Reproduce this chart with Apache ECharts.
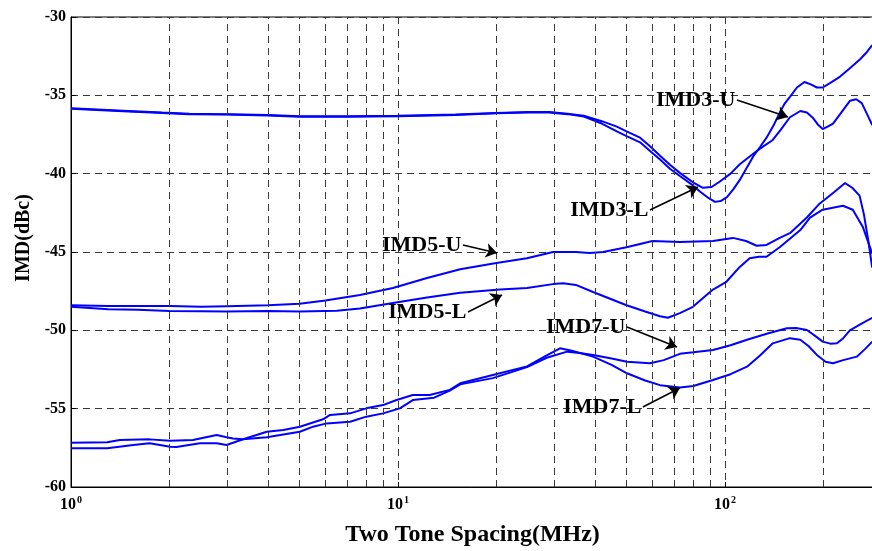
<!DOCTYPE html>
<html><head><meta charset="utf-8">
<script src="https://cdn.jsdelivr.net/npm/echarts@6/dist/echarts.min.js"></script>
<style>html,body{margin:0;padding:0;background:#fff}#c{width:872px;height:551px}</style>
</head><body><div id="c"></div>
<script>
// ---- data (frequency in MHz, IMD in dBc) ----
const imd3U = [[1,-35.83],[1.2,-35.9],[1.5,-36.0],[1.9,-36.1],[2.3,-36.18],[3,-36.2],[4,-36.25],[5,-36.33],[7,-36.33],[10,-36.3],[15,-36.22],[20,-36.12],[25,-36.07],[29,-36.07],[33,-36.17],[37,-36.3],[42,-36.65],[46.7,-37.0],[50,-37.3],[55,-37.7],[59,-38.25],[63.3,-38.85],[68,-39.45],[72.8,-39.95],[79.8,-40.55],[85.6,-40.9],[91,-40.85],[96.5,-40.5],[104,-40.0],[111,-39.4],[119,-38.9],[128,-38.4],[140,-37.85],[148,-37.2],[158,-36.4],[170,-36.0],[178,-36.1],[186,-36.45],[193,-36.9],[199,-37.15],[206,-37.0],[214,-36.8],[225,-36.2],[241,-35.35],[252,-35.25],[262,-35.5],[272,-36.2],[282,-36.9]];
const imd3L = [[1,-35.86],[1.2,-35.93],[1.5,-36.03],[1.9,-36.13],[2.3,-36.2],[3,-36.22],[4,-36.28],[5,-36.36],[7,-36.36],[10,-36.33],[15,-36.25],[20,-36.15],[25,-36.1],[29,-36.1],[33,-36.2],[37,-36.35],[42,-36.8],[46.7,-37.3],[50,-37.6],[55,-38.0],[59,-38.55],[63.3,-39.1],[68,-39.7],[72.8,-40.15],[79.8,-40.75],[84,-41.15],[89,-41.55],[93.2,-41.8],[97,-41.75],[101.4,-41.5],[106,-41.0],[111,-40.4],[116,-39.7],[122,-38.9],[128,-38.3],[134,-37.7],[141,-36.9],[147,-36.1],[152,-35.55],[158,-35.1],[166,-34.5],[175,-34.15],[183,-34.3],[191,-34.5],[199,-34.5],[210,-34.2],[225,-33.8],[240,-33.3],[259,-32.7],[270,-32.3],[282,-31.8]];
const imd5U = [[1,-48.4],[1.3,-48.45],[1.6,-48.45],[2,-48.45],[2.5,-48.5],[3,-48.46],[4,-48.4],[5,-48.3],[6,-48.1],[7.65,-47.74],[9.65,-47.3],[12.27,-46.66],[15.5,-46.1],[20,-45.7],[24.8,-45.4],[29.8,-45.0],[35,-45.0],[38.6,-45.06],[42.4,-45.0],[50,-44.7],[60,-44.3],[72.8,-44.36],[91.9,-44.3],[105.8,-44.1],[116,-44.3],[125,-44.6],[134,-44.55],[147,-44.1],[158,-43.8],[178,-42.8],[195,-41.9],[215,-41.2],[233,-40.6],[245,-40.9],[258,-41.4],[266,-42.6],[274,-44.2],[282,-46.0]];
const imd5L = [[1,-48.5],[1.3,-48.65],[1.6,-48.68],[2,-48.76],[2.5,-48.78],[3,-48.8],[4,-48.76],[5,-48.8],[6.5,-48.75],[7.65,-48.6],[9.65,-48.25],[12.27,-47.9],[15.5,-47.6],[20.5,-47.4],[24.8,-47.3],[29.8,-47.05],[32,-47.0],[35,-47.1],[39.5,-47.55],[50,-48.4],[57,-48.8],[63.3,-49.1],[66.9,-49.2],[72.8,-48.9],[79.8,-48.5],[85,-48.0],[91.9,-47.4],[101,-46.9],[111,-45.95],[119,-45.4],[127,-45.3],[134,-45.3],[147,-44.7],[170,-43.6],[182,-42.8],[199,-42.3],[229.5,-42.05],[246,-42.3],[264,-43.4],[282,-45.1]];
const imd7U = [[1,-57.17],[1.29,-57.15],[1.41,-57.0],[1.74,-56.96],[2.01,-57.05],[2.36,-57.0],[2.79,-56.68],[2.99,-56.83],[3.13,-56.9],[3.36,-56.95],[3.97,-56.83],[5.01,-56.47],[5.5,-56.15],[6.05,-55.94],[7.14,-55.83],[8.0,-55.51],[9.0,-55.3],[10.13,-54.98],[11.1,-54.45],[12.9,-54.3],[14.4,-53.85],[15.5,-53.45],[19.5,-53.05],[24.8,-52.35],[28.5,-51.75],[32.9,-51.36],[36,-51.45],[39.5,-51.57],[45,-51.8],[50.15,-52.0],[59,-52.1],[65,-51.9],[72.8,-51.5],[80,-51.4],[91.9,-51.25],[104,-50.95],[116.8,-50.6],[135,-50.2],[154.7,-49.87],[165,-49.85],[178,-49.98],[190,-50.4],[199,-50.72],[210,-50.85],[220,-50.83],[230,-50.5],[241,-50.0],[260,-49.6],[282,-49.2]];
const imd7L = [[1,-57.53],[1.29,-57.53],[1.55,-57.32],[1.74,-57.21],[2.01,-57.43],[2.1,-57.45],[2.48,-57.21],[2.79,-57.21],[2.99,-57.32],[3.36,-56.95],[3.97,-56.47],[4.46,-56.36],[5.01,-56.15],[5.9,-55.68],[6.2,-55.4],[7.14,-55.3],[8.0,-54.98],[9.0,-54.77],[9.9,-54.45],[11.1,-54.13],[12.5,-54.13],[14.4,-53.8],[15.5,-53.38],[19.5,-52.85],[24.8,-52.3],[28.5,-51.6],[31.3,-51.15],[34,-51.3],[39.5,-51.68],[45,-52.2],[50.15,-52.74],[57,-53.2],[63.3,-53.5],[72.8,-53.65],[80,-53.55],[91.9,-53.17],[104,-52.8],[116.8,-52.32],[128,-51.6],[140,-50.83],[158,-50.5],[170,-50.6],[180,-51.0],[191,-51.57],[203,-52.0],[214,-52.1],[230,-51.9],[253,-51.68],[268,-51.2],[282,-50.72]];

const minorGridX = [2,3,4,5,6,7,8,9,20,30,40,50,60,70,80,90,200];
const annoNames = ['IMD3-U','IMD3-L','IMD5-U','IMD5-L','IMD7-U','IMD7-L'];
const annoFrom = [[108.8,-35.30],[58.96,-42.32],[15.8,-44.55],[16.37,-48.83],[50.15,-49.79],[56.1,-54.89]];
const annoTo = [[155.8,-36.38],[82.7,-40.85],[20.08,-45.06],[20.8,-47.74],[71.3,-51.06],[72.8,-53.68]];

const FONT = 'Liberation Serif';
const BLUE = '#0000ff';
const gridDash = {color:'#3a3a3a', width:1, type:[7,5]};

function curve(name, data){
  return {name, type:'line', data, showSymbol:false, symbol:'none', smooth:false,
    lineStyle:{color:BLUE, width:2}, itemStyle:{color:BLUE}, z:3, silent:true, animation:false};
}

const chart = echarts.init(document.getElementById('c'), null, {renderer:'canvas'});
chart.setOption({
  animation:false,
  backgroundColor:'#fff',
  grid:{left:71, right:-2, top:17, bottom:64, outerBoundsMode:'none', containLabel:false,
    show:true, borderColor:'#000', borderWidth:1, backgroundColor:'transparent'},
  xAxis:{
    type:'log', logBase:10, min:1, max:285.6,
    axisLine:{show:true, onZero:false, lineStyle:{color:'#000', width:1}},
    axisTick:{show:true, inside:true, length:5, lineStyle:{color:'#000'}},
    splitLine:{show:true, lineStyle:gridDash},
    axisLabel:{
      margin:8, color:'#000',
      formatter:function(v){
        const e = Math.log10(v);
        if (Math.abs(e - Math.round(e)) > 1e-6) return '';
        return '{b|10}{s|' + Math.round(e) + '}';
      },
      rich:{
        b:{fontFamily:FONT, fontWeight:'bold', fontSize:16, color:'#000'},
        s:{fontFamily:FONT, fontWeight:'bold', fontSize:10, color:'#000', verticalAlign:'top', padding:[0,0,10,1]}
      }
    },
    name:'Two Tone Spacing(MHz)', nameLocation:'middle', nameGap:36,
    nameTextStyle:{fontFamily:FONT, fontWeight:'bold', fontSize:24, color:'#000'}
  },
  yAxis:{
    type:'value', min:-60, max:-30, interval:5,
    axisLine:{show:true, onZero:false, lineStyle:{color:'#000', width:1}},
    axisTick:{show:true, inside:true, length:5, lineStyle:{color:'#000'}},
    splitLine:{show:true, lineStyle:gridDash},
    axisLabel:{margin:5, fontFamily:FONT, fontWeight:'bold', fontSize:16, color:'#000'},
    name:'IMD(dBc)', nameLocation:'middle', nameGap:36, nameRotate:90,
    nameTextStyle:{fontFamily:FONT, fontWeight:'bold', fontSize:20, color:'#000', padding:[0,0,0,28]}
  },
  series:[
    {type:'line', data:[], silent:true, z:1,
      markLine:{silent:true, symbol:['none','none'], label:{show:false}, animation:false,
        lineStyle:gridDash, data:minorGridX.map(v=>({xAxis:v}))}},
    curve('IMD3-U', imd3U), curve('IMD3-L', imd3L),
    curve('IMD5-U', imd5U), curve('IMD5-L', imd5L),
    curve('IMD7-U', imd7U), curve('IMD7-L', imd7L),
    {type:'line', data:[], silent:true, z:5,
      markLine:{silent:true, symbol:['none','arrow'], symbolSize:11, label:{show:false}, animation:false,
        lineStyle:{color:'#000', width:1.6, type:'solid'},
        data:annoFrom.map((p,i)=>[{coord:p},{coord:annoTo[i]}])},
      markPoint:{silent:true, symbol:'circle', symbolSize:1, itemStyle:{color:'transparent'}, animation:false,
        label:{show:true, position:'left', distance:1, fontFamily:FONT, fontWeight:'bold', fontSize:22, color:'#000',
          formatter:p=>p.name},
        data:annoFrom.map((p,i)=>({name:annoNames[i], coord:p}))}
    }
  ]
});
</script></body></html>
